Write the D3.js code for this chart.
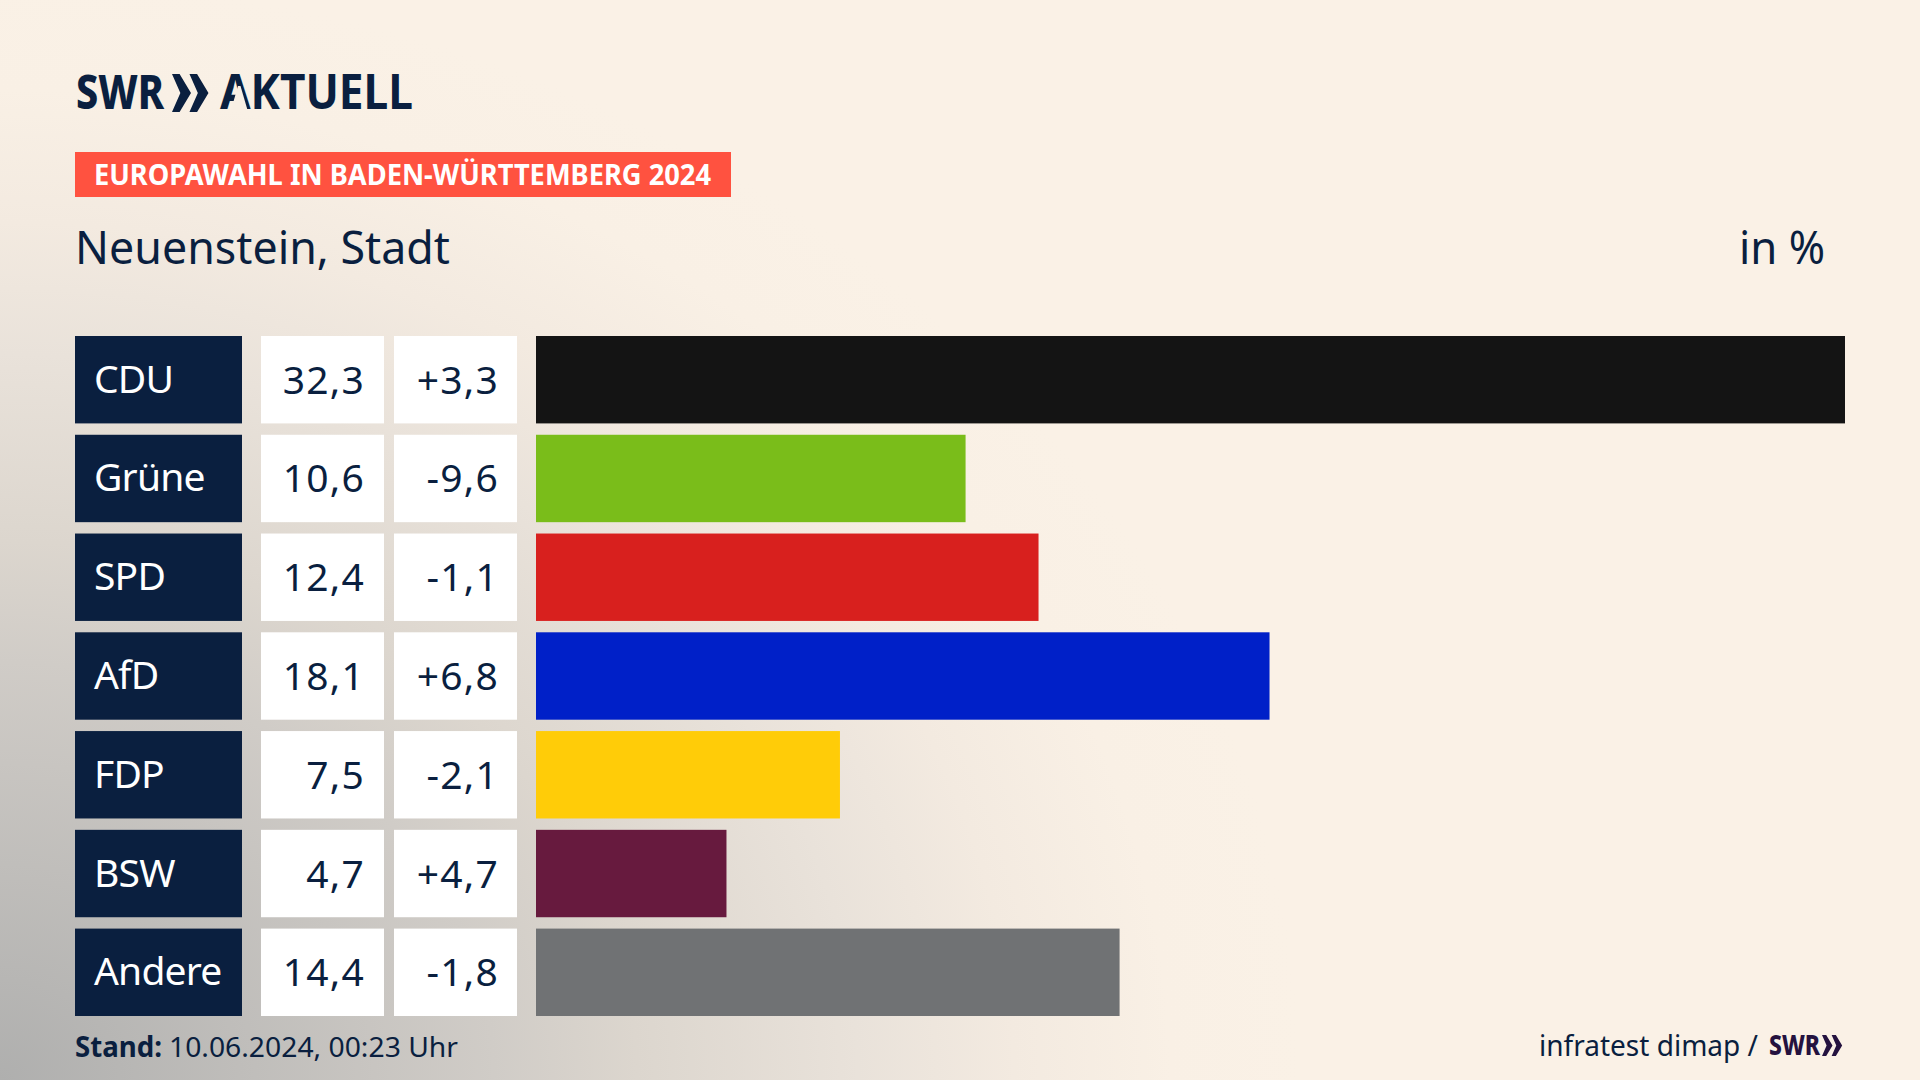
<!DOCTYPE html>
<html>
<head>
<meta charset="utf-8">
<script src="https://cdn.jsdelivr.net/npm/d3@7"></script>
<style>
  html, body { margin: 0; padding: 0; background: #faf1e6; overflow: hidden; }
  text { font-family: "Noto Sans", sans-serif; }
</style>
</head>
<body>
<div id="chart"></div>
<script>
const parties = ["CDU", "Grüne", "SPD", "AfD", "FDP", "BSW", "Andere"];
const shares = [32.3, 10.6, 12.4, 18.1, 7.5, 4.7, 14.4];
const changes = [3.3, -9.6, -1.1, 6.8, -2.1, 4.7, -1.8];
const partyColors = ["#141414", "#7abd1a", "#d8201e", "#0020c8", "#ffcc08", "#671a3e", "#707274"];

const width = 1920, height = 1080;
const navy = "#0a1f3f";

const svg = d3.select("#chart").append("svg")
    .attr("width", width)
    .attr("height", height)
    .style("display", "block");

// fond : creme + ombre grise depuis le coin bas gauche
const shade = svg.append("defs").append("radialGradient")
    .attr("id", "shade").attr("gradientUnits", "userSpaceOnUse")
    .attr("cx", 0).attr("cy", 0).attr("r", 1)
    .attr("gradientTransform", "translate(0,1080) scale(1300,1100)");
[[0, "#afafae"], [0.38, "#d0ccc7"], [0.49, "#dcd6ce"], [0.66, "#e9e2da"], [0.78, "#f3eae0"], [0.9, "#f9f0e5"], [1, "#faf1e6"]].forEach(s => {
    shade.append("stop").attr("offset", s[0]).attr("stop-color", s[1]);
});
svg.append("rect").attr("width", width).attr("height", height).attr("fill", "url(#shade)");

const y = d3.scaleBand().domain(parties).range([336, 1016]).paddingInner(0.115);
const x = d3.scaleLinear().domain([0, d3.max(shares)]).range([536, 1845]);

const de = d3.formatLocale({ decimal: ",", thousands: ".", grouping: [3], currency: ["", " €"], minus: "-" });
const fmtShare = de.format(".1f");
const fmtChange = de.format("+.1f");

const rows = svg.append("g").selectAll("g")
    .data(parties)
    .join("g")
    .attr("transform", d => `translate(0,${y(d)})`);

const fs = 39, baseline = y.bandwidth() / 2 + 14;

rows.append("rect").attr("x", 75).attr("width", 167).attr("height", y.bandwidth()).attr("fill", navy);
rows.append("rect").attr("x", 261).attr("width", 123).attr("height", y.bandwidth()).attr("fill", "#fff");
rows.append("rect").attr("x", 394).attr("width", 123).attr("height", y.bandwidth()).attr("fill", "#fff");
rows.append("rect")
    .attr("x", x(0))
    .attr("width", (d, i) => x(shares[i]) - x(0))
    .attr("height", y.bandwidth())
    .attr("fill", (d, i) => partyColors[i]);

rows.append("text").attr("x", 94).attr("y", baseline - 1).attr("letter-spacing", -0.8)
    .attr("font-size", fs).attr("fill", "#fff").text(d => d);
rows.append("text").attr("x", 365).attr("y", baseline).attr("text-anchor", "end").attr("letter-spacing", 1.2)
    .attr("font-size", fs).attr("fill", navy).text((d, i) => fmtShare(shares[i]));
rows.append("text").attr("x", 499).attr("y", baseline).attr("text-anchor", "end").attr("letter-spacing", 1.2)
    .attr("font-size", fs).attr("fill", navy).text((d, i) => fmtChange(changes[i]));

// en-tete
function chevrons(g, x0, top, h, color) {
    const w = h * 0.5, flat = h * 0.2, notch = h * 0.22, gap = h * 0.46;
    [0, 1].forEach(k => {
        const a = x0 + k * gap;
        g.append("path").attr("fill", color)
            .attr("d", d3.line()([[a, top], [a + flat, top], [a + w, top + h / 2], [a + flat, top + h], [a, top + h], [a + notch, top + h / 2]]) + "Z");
    });
}

svg.append("text").attr("x", 76).attr("y", 109).attr("font-size", 48).attr("font-weight", 800)
    .attr("fill", navy).attr("textLength", 88).attr("lengthAdjust", "spacingAndGlyphs").text("SWR");
chevrons(svg, 172, 74, 38, navy);
svg.append("text").attr("x", 220).attr("y", 109).attr("font-size", 48).attr("font-weight", 700)
    .attr("fill", navy).attr("textLength", 193).attr("lengthAdjust", "spacingAndGlyphs").text("AKTUELL");
// le A du logo n'a pas de barre
svg.append("path").attr("fill", "#f8efe4")
    .attr("d", d3.line()([[238, 86], [240.5, 86], [247.5, 110], [231, 110]]) + "Z");

svg.append("rect").attr("x", 75).attr("y", 152).attr("width", 656).attr("height", 45).attr("fill", "#ff5240");
svg.append("text").attr("x", 94).attr("y", 185).attr("font-size", 28).attr("font-weight", 700)
    .attr("fill", "#fff").attr("textLength", 617).attr("lengthAdjust", "spacingAndGlyphs")
    .text("EUROPAWAHL IN BADEN-WÜRTTEMBERG 2024");

svg.append("text").attr("x", 75).attr("y", 264).attr("font-size", 45).attr("fill", navy)
    .attr("textLength", 375).attr("lengthAdjust", "spacingAndGlyphs").text("Neuenstein, Stadt");
svg.append("text").attr("x", 1739).attr("y", 264).attr("font-size", 45).attr("fill", navy)
    .attr("textLength", 86).attr("lengthAdjust", "spacingAndGlyphs").text("in %");

// pied de page
svg.append("text").attr("x", 75).attr("y", 1057).attr("font-size", 28).attr("font-weight", 700).attr("fill", navy)
    .attr("textLength", 87).attr("lengthAdjust", "spacingAndGlyphs").text("Stand:");
svg.append("text").attr("x", 169).attr("y", 1057).attr("font-size", 28).attr("fill", navy)
    .attr("textLength", 289).attr("lengthAdjust", "spacingAndGlyphs").text("10.06.2024, 00:23 Uhr");

svg.append("text").attr("x", 1539).attr("y", 1056).attr("font-size", 29).attr("fill", navy)
    .attr("textLength", 219).attr("lengthAdjust", "spacingAndGlyphs").text("infratest dimap /");
svg.append("text").attr("x", 1769).attr("y", 1055).attr("font-size", 28).attr("font-weight", 800)
    .attr("fill", "#24123f").attr("textLength", 51).attr("lengthAdjust", "spacingAndGlyphs").text("SWR");
chevrons(svg, 1822, 1035, 21, "#24123f");
</script>
</body>
</html>
